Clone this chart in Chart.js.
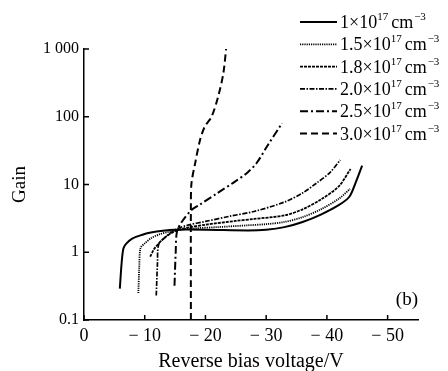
<!DOCTYPE html>
<html>
<head>
<meta charset="utf-8">
<script src="https://cdn.jsdelivr.net/npm/chart.js@4"></script>
<style>
  html, body { margin: 0; padding: 0; background: #fff; }
</style>
</head>
<body>
<canvas id="gainChart" width="448" height="371"></canvas>
<script>
// doping concentration mantissas (x10^17 cm^-3)
const doping = ['1', '1.5', '1.8', '2.0', '2.5', '3.0'];
const voltTicks = [0, -10, -20, -30, -40, -50];
const gainTicks = [0.1, 1, 10, 100, 1000];

// reverse bias (V) and gain for each doping level
const v1 = [-5.9, -6.2, -6.5, -7, -8, -9.5, -11, -13, -15, -20, -27, -30, -33, -36, -39, -42, -43.7, -44.7, -45.8];
const g1 = [0.29, 0.7, 1.15, 1.35, 1.6, 1.8, 1.95, 2.08, 2.15, 2.15, 2.1, 2.15, 2.35, 2.8, 3.6, 5.0, 6.6, 10.5, 19];

const v2 = [-8.95, -9.1, -9.3, -10, -11, -12.5, -14, -15, -18, -22, -27, -30, -33, -36, -39, -42, -43.8];
const g2 = [0.25, 0.6, 1.15, 1.35, 1.6, 1.85, 2.0, 2.1, 2.25, 2.35, 2.5, 2.6, 2.8, 3.3, 4.3, 6.2, 8.6];

const v3 = [-10.9, -11.5, -12.3, -13.5, -15, -17, -20, -25, -28, -33, -36, -39, -42, -43.9];
const g3 = [0.86, 1.1, 1.35, 1.7, 2.05, 2.3, 2.55, 2.9, 3.1, 3.5, 4.3, 6.0, 9.5, 17];

const v4 = [-11.9, -12.1, -12.3, -13.5, -15, -17, -20, -24, -28, -33, -36, -38.3, -40.5, -42.2];
const g4 = [0.23, 0.7, 1.3, 1.7, 2.15, 2.5, 2.85, 3.4, 4.0, 5.5, 7.5, 10.5, 15, 23];

const v5 = [-14.9, -15.1, -15.3, -16.1, -17.7, -19, -21.9, -24.5, -26.8, -28.4, -30.1, -32.6];
const g5 = [0.32, 1.0, 2.0, 2.8, 4.2, 5.0, 7.4, 10.5, 14.7, 20.6, 36, 80];

const v6 = [-17.6, -17.6, -17.7, -18.3, -19.1, -19.9, -21, -22.1, -22.95, -23.4];
const g6 = [0.1, 5, 10.5, 20.5, 45, 72, 100, 200, 440, 1000];

const volts = [v1, v2, v3, v4, v5, v6];
const gains = [g1, g2, g3, g4, g5, g6];
const dashes = [[], [1.2, 1], [3, 1], [5, 1.5, 1.5, 1.5], [8, 3, 2, 3], [7, 4]];
const widths = [2, 1.8, 1.8, 1.7, 2, 2];

const serif = "'Liberation Serif', 'Times New Roman', serif";
Chart.defaults.font.family = serif;
Chart.defaults.color = '#000';

const datasets = doping.map((d, i) => ({
  label: d + '×10¹⁷ cm⁻³',
  data: volts[i].map((v, j) => ({ x: v, y: gains[i][j] })),
  borderColor: '#000',
  borderWidth: widths[i],
  borderDash: dashes[i],
  pointRadius: 0,
  tension: 0.3,
  fill: false
}));

// inward tick marks, custom legend with superscripts, panel label
const decorations = {
  id: 'decorations',
  afterDraw(chart) {
    const ctx = chart.ctx;
    const x = chart.scales.x, y = chart.scales.y;
    const area = chart.chartArea;
    ctx.save();
    ctx.strokeStyle = '#000';
    ctx.fillStyle = '#000';
    ctx.lineWidth = 1.5;
    ctx.setLineDash([]);
    ctx.beginPath();
    x.ticks.forEach(t => {
      const px = x.getPixelForValue(t.value);
      ctx.moveTo(px, area.bottom);
      ctx.lineTo(px, area.bottom - 5);
    });
    y.ticks.forEach(t => {
      const py = y.getPixelForValue(t.value);
      ctx.moveTo(area.left, py);
      ctx.lineTo(area.left + 5, py);
    });
    ctx.stroke();

    // legend
    ctx.textBaseline = 'alphabetic';
    ctx.textAlign = 'left';
    chart.data.datasets.forEach((ds, i) => {
      const cy = 22 + i * 22.3;
      ctx.setLineDash(ds.borderDash);
      ctx.lineWidth = ds.borderWidth;
      ctx.beginPath();
      ctx.moveTo(300, cy);
      ctx.lineTo(337, cy);
      ctx.stroke();
      ctx.setLineDash([]);
      let tx = 340;
      const base = cy + 6;
      ctx.font = '18px ' + serif;
      const main = doping[i] + '×10';
      ctx.fillText(main, tx, base);
      tx += ctx.measureText(main).width;
      ctx.font = '11px ' + serif;
      ctx.fillText('17', tx, base - 8);
      tx += ctx.measureText('17').width + 3;
      ctx.font = '18px ' + serif;
      ctx.fillText('cm', tx, base);
      tx += ctx.measureText('cm').width + 1;
      ctx.font = '11px ' + serif;
      ctx.fillText('−3', tx, base - 8);
    });

    ctx.font = '19px ' + serif;
    ctx.textAlign = 'right';
    ctx.textBaseline = 'middle';
    ctx.fillText('(b)', area.right, 300);
    ctx.restore();
  }
};

new Chart(document.getElementById('gainChart'), {
  type: 'line',
  data: { datasets },
  options: {
    responsive: false,
    animation: false,
    devicePixelRatio: 1,
    layout: { padding: { top: 49, right: 30, left: 0, bottom: 0 } },
    plugins: { legend: { display: false }, tooltip: { enabled: false } },
    scales: {
      x: {
        type: 'linear',
        min: -55,
        max: 0,
        reverse: true,
        afterFit: s => { s.height = 51; },
        afterBuildTicks: s => { s.ticks = voltTicks.map(v => ({ value: v })); },
        grid: { display: false, drawTicks: false },
        border: { display: true, color: '#000', width: 1.5 },
        ticks: {
          padding: 5,
          font: { size: 18 },
          maxRotation: 0,
          callback: v => v === 0 ? '0' : '− ' + Math.abs(v)
        },
        title: {
          display: true,
          text: 'Reverse bias voltage/V',
          font: { size: 20, lineHeight: 1 },
          padding: { top: 0, bottom: -1 }
        }
      },
      y: {
        type: 'logarithmic',
        min: 0.1,
        max: 1000,
        afterFit: s => { s.width = 84; },
        afterBuildTicks: s => { s.ticks = gainTicks.map(v => ({ value: v })); },
        grid: { display: false, drawTicks: false },
        border: { display: true, color: '#000', width: 1.5 },
        ticks: {
          padding: 5,
          font: { size: 16 },
          callback: v => v === 1000 ? '1 000' : String(v)
        },
        title: {
          display: true,
          text: 'Gain',
          font: { size: 19, lineHeight: 1 },
          padding: { top: 11, bottom: 0 }
        }
      }
    }
  },
  plugins: [decorations]
});
</script>
</body>
</html>
